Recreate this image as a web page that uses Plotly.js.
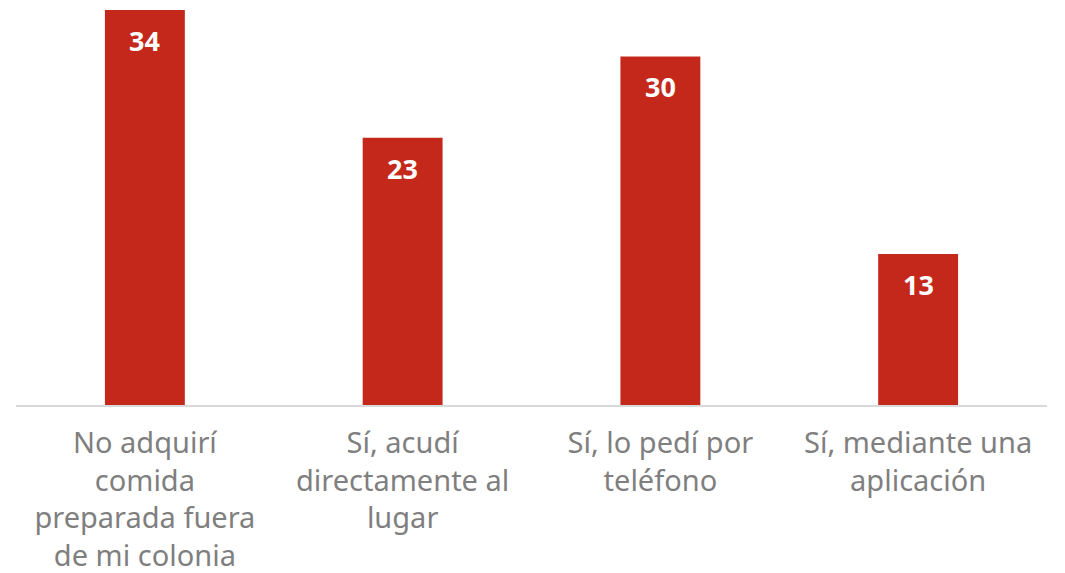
<!DOCTYPE html>
<html>
<head>
<meta charset="utf-8">
<script src="https://cdn.plot.ly/plotly-3.0.1.min.js"></script>
<style>
  html, body { margin: 0; padding: 0; background: #fff; }
  #chart { width: 1065px; height: 573px; }
</style>
</head>
<body>
<div id="chart"></div>
<script>
// respuestas: ¿adquirió comida preparada fuera de su colonia?
const categories = [
    'No adquirí<br>comida<br>preparada fuera<br>de mi colonia',
    'Sí, acudí<br>directamente al<br>lugar',
    'Sí, lo pedí por<br>teléfono',
    'Sí, mediante una<br>aplicación'
];
const values = [34, 23, 30, 13];

const barColor = '#C4281A';

const trace = {
    type: 'bar',
    x: categories,
    y: values,
    marker: { color: barColor },
    hoverinfo: 'skip'
};

// value labels sit inside the bar, a bit below its top
const annotations = values.map((v, i) => ({
    x: categories[i],
    y: v,
    text: String(v),
    showarrow: false,
    yanchor: 'top',
    yshift: -10,
    font: { family: 'Noto Sans, sans-serif', size: 27, color: '#ffffff', weight: 'bold' }
}));

const layout = {
    width: 1065,
    height: 573,
    margin: { l: 16, r: 18, t: 10, b: 168 },
    paper_bgcolor: '#ffffff',
    plot_bgcolor: '#ffffff',
    bargap: 0.69,
    showlegend: false,
    xaxis: {
        showline: true,
        linecolor: '#D9D9D9',
        linewidth: 2,
        ticks: '',
        tickfont: { family: 'Noto Sans, sans-serif', size: 29, color: '#7F7F7F' },
        ticklabelstandoff: 11
    },
    yaxis: {
        range: [0, 34],
        visible: false,
        showgrid: false,
        zeroline: false
    },
    annotations: annotations
};

Plotly.newPlot('chart', [trace], layout, { displayModeBar: false, staticPlot: true });
</script>
</body>
</html>
